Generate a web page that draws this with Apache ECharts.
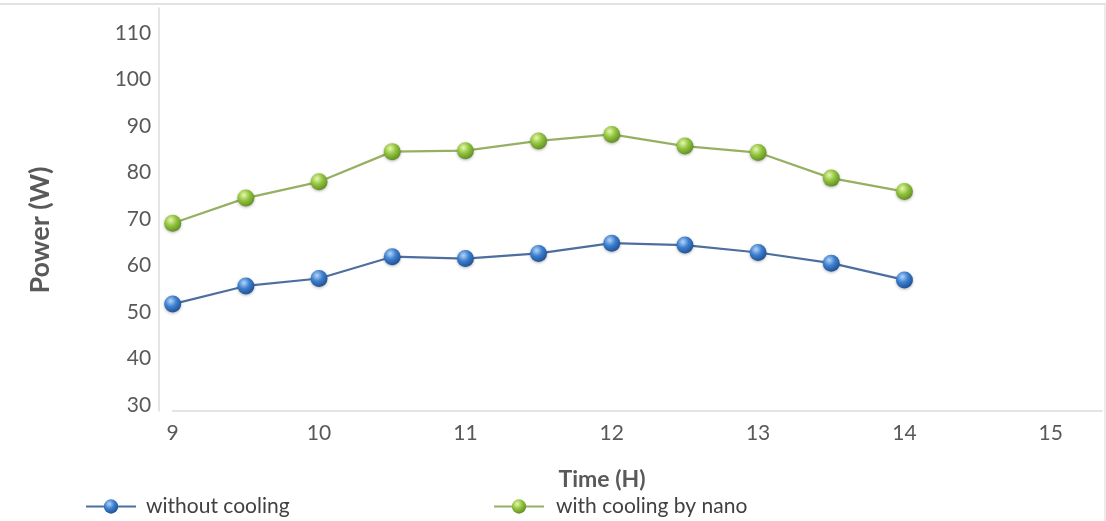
<!DOCTYPE html>
<html>
<head>
<meta charset="utf-8">
<script src="https://cdn.jsdelivr.net/npm/echarts@6/dist/echarts.min.js"></script>
<style>
  html, body { margin: 0; padding: 0; background: #ffffff; }
  #chart { width: 1106px; height: 521px; }
</style>
</head>
<body>
<div id="chart"></div>
<script>
// Hourly power output of the panel, with and without nano-fluid cooling
const hours = [9, 9.5, 10, 10.5, 11, 11.5, 12, 12.5, 13, 13.5, 14];
const withoutCooling = [51.7, 55.6, 57.2, 61.9, 61.5, 62.6, 64.8, 64.4, 62.8, 60.5, 56.9];
const withNano = [69.1, 74.5, 78.0, 84.5, 84.7, 86.8, 88.2, 85.7, 84.3, 78.8, 75.9];
const xTicks = [9, 10, 11, 12, 13, 14, 15];
const yTicks = [30, 40, 50, 60, 70, 80, 90, 100, 110];
const seriesNames = ['without cooling', 'with cooling by nano'];

const pairs = (xs, ys) => xs.map((x, i) => [x, ys[i]]);

function sphere(light, mid, dark) {
  return new echarts.graphic.RadialGradient(0.38, 0.32, 0.75, [
    { offset: 0, color: light },
    { offset: 0.45, color: mid },
    { offset: 1, color: dark }
  ]);
}

const textGray = '#595959';
const font = 'Lato, "Open Sans", sans-serif';

const chart = echarts.init(document.getElementById('chart'), null, { renderer: 'canvas' });

chart.setOption({
  backgroundColor: '#ffffff',
  animation: false,
  grid: { left: 172.7, right: 4, top: 8, bottom: 110, containLabel: false },
  xAxis: {
    type: 'value',
    min: 9,
    max: 15.35,
    axisLine: { show: true, lineStyle: { color: '#dcdcdc', width: 1.5 } },
    axisTick: { show: false },
    splitLine: { show: false },
    axisLabel: {
      customValues: xTicks,
      color: textGray,
      fontFamily: font,
      fontSize: 21,
      margin: 12
    }
  },
  yAxis: {
    type: 'value',
    min: 28.7,
    max: 115.4,
    offset: 13.5,
    axisLine: { show: true, lineStyle: { color: '#dcdcdc', width: 1.5 } },
    axisTick: { show: false },
    splitLine: { show: false },
    axisLabel: {
      customValues: yTicks,
      color: textGray,
      fontFamily: font,
      fontSize: 21,
      margin: 8
    }
  },
  legend: [
    {
      data: [seriesNames[0]],
      left: 80,
      top: 491,
      itemWidth: 50,
      itemHeight: 18,
      textStyle: { color: '#404040', fontFamily: font, fontSize: 21, padding: [0, 0, 0, 5] }
    },
    {
      data: [seriesNames[1]],
      left: 488,
      top: 491,
      itemWidth: 50,
      itemHeight: 18,
      textStyle: { color: '#404040', fontFamily: font, fontSize: 21, padding: [0, 0, 0, 7] }
    }
  ],
  series: [
    {
      name: seriesNames[0],
      type: 'line',
      data: pairs(hours, withoutCooling),
      symbol: 'circle',
      symbolSize: 17,
      lineStyle: { color: '#4d6f9f', width: 2.2 },
      itemStyle: {
        color: sphere('#b5d6f7', '#3d7fd0', '#1b4a8a'),
        shadowColor: 'rgba(0,0,0,0.3)',
        shadowBlur: 3,
        shadowOffsetY: 1
      },
      z: 3
    },
    {
      name: seriesNames[1],
      type: 'line',
      data: pairs(hours, withNano),
      symbol: 'circle',
      symbolSize: 17,
      lineStyle: { color: '#95b062', width: 2.2 },
      itemStyle: {
        color: sphere('#e6f7b0', '#93c43e', '#5a8620'),
        shadowColor: 'rgba(0,0,0,0.3)',
        shadowBlur: 3,
        shadowOffsetY: 1
      },
      z: 3
    }
  ],
  graphic: [
    // light frame along the top and right edges
    { type: 'line', shape: { x1: 0, y1: 4, x2: 1106, y2: 4 }, style: { stroke: '#e2e2e2', lineWidth: 2 }, silent: true },
    { type: 'line', shape: { x1: 1105, y1: 4, x2: 1105, y2: 521 }, style: { stroke: '#e6e6e6', lineWidth: 1.5 }, silent: true },
    // axis titles
    {
      type: 'text',
      x: 602, y: 480,
      style: { text: 'Time (H)', fill: textGray, font: 'bold 23px ' + font, textAlign: 'center', textVerticalAlign: 'middle' },
      silent: true
    },
    {
      type: 'text',
      x: 40, y: 230,
      rotation: Math.PI / 2,
      style: { text: 'Power (W)', fill: textGray, font: 'bold 27px ' + font, textAlign: 'center', textVerticalAlign: 'middle' },
      silent: true
    }
  ]
});
</script>
</body>
</html>
